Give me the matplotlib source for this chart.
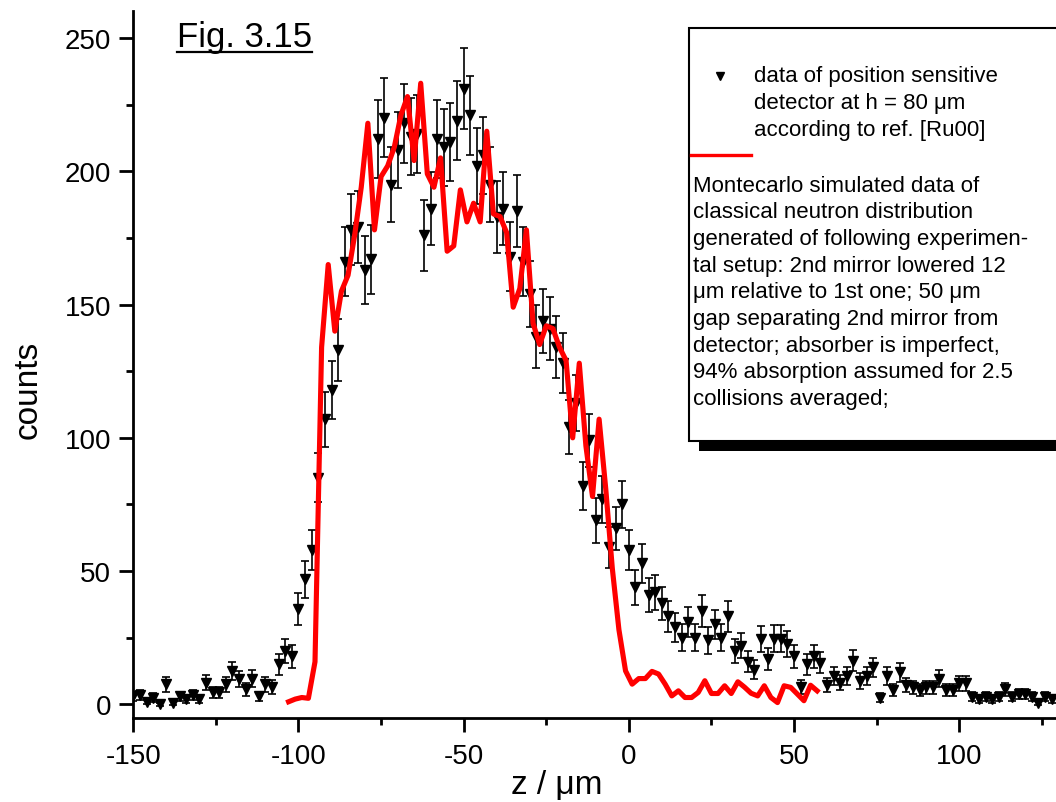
import numpy as np
import matplotlib
matplotlib.use("Agg")
import matplotlib.pyplot as plt
from matplotlib.lines import Line2D
from matplotlib.patches import Rectangle
from matplotlib.ticker import MultipleLocator

plt.rcParams['font.family'] = ['Liberation Sans', 'DejaVu Sans']
plt.rcParams['axes.unicode_minus'] = False

# measured detector data (z in um, step 2 from -150 to 128)
z_data = np.arange(-150, 130, 2)
counts = [3, 3.5, 1, 2.6, 0, 7.6, 0.7, 3, 2, 3.6,
          2, 8.2, 4.5, 4.5, 7.6, 12.6, 9.5, 5.7, 9.7, 3,
          7.6, 6.7, 15, 20, 18, 35.7, 47, 58, 85, 107,
          118, 133, 166, 178, 179, 163, 167, 212, 220, 195,
          208, 218, 213, 214, 176, 186, 212, 209, 211, 219,
          231, 221, 202, 206, 195, 183, 186, 168, 185, 166,
          154, 138, 144, 141, 134, 128, 104, 113, 82, 99,
          69, 77, 59, 66, 75, 58, 44, 53, 41, 42,
          38, 33, 29, 25, 31, 25, 35, 24, 30, 25,
          33, 20, 22, 16, 13, 24.5, 17, 24.7, 24.7, 22.6,
          18, 6.7, 15, 18, 15.7, 7.2, 10.7, 8.2, 10.7, 16.4,
          8.9, 10.7, 13.9, 2.6, 10.7, 5.4, 12, 7.2, 6.4, 5.4,
          6.4, 6.4, 9.7, 5.4, 5.4, 7.9, 7.9, 2.9, 2, 2.9,
          2, 2.9, 5.7, 2.9, 3.9, 3.9, 2.9, 0.7, 2.9, 2]
errors = [1.7, 1.9, 1.0, 1.6, 0.5, 2.8, 0.8, 1.7, 1.4, 1.9,
          1.4, 2.9, 2.1, 2.1, 2.8, 3.5, 3.1, 2.4, 3.1, 1.7,
          2.8, 2.6, 3.9, 4.5, 4.2, 6.0, 6.9, 7.6, 9.2, 10.3,
          10.9, 11.5, 12.9, 13.3, 13.4, 12.8, 12.9, 14.6, 14.8, 14.0,
          14.4, 14.8, 14.6, 14.6, 13.3, 13.6, 14.6, 14.5, 14.5, 14.8,
          15.2, 14.9, 14.2, 14.4, 14.0, 13.5, 13.6, 13.0, 13.6, 12.9,
          12.4, 11.7, 12.0, 11.9, 11.6, 11.3, 10.2, 10.6, 9.1, 9.9,
          8.3, 8.8, 7.7, 8.1, 8.7, 7.6, 6.6, 7.3, 6.4, 6.5,
          6.2, 5.7, 5.4, 5.0, 5.6, 5.0, 5.9, 4.9, 5.5, 5.0,
          5.7, 4.5, 4.7, 4.0, 3.6, 4.9, 4.1, 5.0, 5.0, 4.8,
          4.2, 2.6, 3.9, 4.2, 4.0, 2.7, 3.3, 2.9, 3.3, 4.0,
          3.0, 3.3, 3.7, 1.6, 3.3, 2.3, 3.5, 2.7, 2.5, 2.3,
          2.5, 2.5, 3.1, 2.3, 2.3, 2.8, 2.8, 1.7, 1.4, 1.7,
          1.4, 1.7, 2.4, 1.7, 2.0, 2.0, 1.7, 0.8, 1.7, 1.4]

# Montecarlo simulation (z step 2 from -103 to 57)
z_sim = np.arange(-103, 59, 2)
sim = [1, 2, 2.6, 2.3, 16, 134, 165, 140, 155, 161,
       176, 194, 218, 178, 198, 202, 209, 221, 228, 204,
       233, 199, 194, 205, 170, 172, 193, 181, 188, 181,
       215, 184, 183, 177, 149, 156, 178, 143, 135, 142,
       141, 134, 129, 100, 128, 97, 78, 107, 81, 51,
       28, 12.6, 7.6, 9.7, 9.7, 12.4, 11.4, 7.6, 3.2, 5.1,
       2.6, 2.6, 4.5, 8.9, 4.1, 4.1, 7, 4.1, 8.5, 6.5,
       4.2, 3.2, 7, 2.6, 0.7, 7, 6.4, 3.9, 1.4, 7.2, 5.1]

legend_top = ["data of position sensitive",
              "detector at h = 80 μm",
              "according to ref. [Ru00]"]
legend_bottom = ["Montecarlo simulated data of",
                 "classical neutron distribution",
                 "generated of following experimen-",
                 "tal setup: 2nd mirror lowered 12",
                 "μm relative to 1st one; 50 μm",
                 "gap separating 2nd mirror from",
                 "detector; absorber is imperfect,",
                 "94% absorption assumed for 2.5",
                 "collisions averaged;"]

W, H = 1056, 803
fig = plt.figure(figsize=(W / 100, H / 100), dpi=100)
ax = fig.add_axes([133.3 / W, 1 - 719.3 / H, 1 - 133.3 / W, (719.3 - 12) / H])

ax.errorbar(z_data, counts, yerr=errors, fmt='v', color='black', ms=7.5,
            capsize=3, elinewidth=1.2, capthick=1.2, zorder=2)
ax.plot(z_sim, sim, color='#ff0000', lw=3.7, zorder=3)

ax.set_xlim(-150, 129.3)
ax.set_ylim(-5.2, 260.1)
ax.xaxis.set_major_locator(MultipleLocator(50))
ax.xaxis.set_minor_locator(MultipleLocator(25))
ax.yaxis.set_major_locator(MultipleLocator(50))
ax.yaxis.set_minor_locator(MultipleLocator(25))
for s in ['top', 'right']:
    ax.spines[s].set_visible(False)
for s in ['left', 'bottom']:
    ax.spines[s].set_linewidth(2)
ax.tick_params(which='major', direction='out', length=10, width=2, labelsize=20)
ax.tick_params(which='minor', direction='out', length=5, width=2)
ax.tick_params(axis='y', pad=6)
ax.tick_params(axis='x', pad=8)

fig.text(28 / W, 1 - 390 / H, "counts", rotation=90, fontsize=24,
         ha='center', va='center')
fig.text(557 / W, 1 - 786 / H, "z / μm", fontsize=24, ha='center', va='center')

# figure label with underline
fig.text(177 / W, 1 - 47 / H, "Fig. 3.15", fontsize=25, ha='left', va='baseline')
fig.add_artist(Line2D([177 / W, 312 / W], [1 - 53 / H, 1 - 53 / H],
                      color='black', lw=1.6, transform=fig.transFigure))

# legend box with shadow
shadow = Rectangle((699 / W, 1 - 452 / H), 0.5, (452 - 39) / H,
                   transform=fig.transFigure, facecolor='black', edgecolor='none')
box = Rectangle((689 / W, 1 - 442 / H), 0.5, (442 - 29) / H,
                transform=fig.transFigure, facecolor='white', edgecolor='black', lw=1.5)
fig.add_artist(shadow)
fig.add_artist(box)

fig.add_artist(Line2D([720 / W], [1 - 77 / H], marker='v', color='black', ms=5.5,
                      linestyle='none', transform=fig.transFigure))
for i, line in enumerate(legend_top):
    fig.text(754 / W, 1 - (77 + 26.7 * i) / H, line, fontsize=16, va='center')
fig.add_artist(Line2D([691 / W, 751 / W], [1 - 156 / H, 1 - 156 / H],
                      color='#ff0000', lw=2.4, transform=fig.transFigure))
for i, line in enumerate(legend_bottom):
    fig.text(693 / W, 1 - (186 + 26.7 * i) / H, line, fontsize=16, va='center')

fig.savefig("out.png", dpi=100)
